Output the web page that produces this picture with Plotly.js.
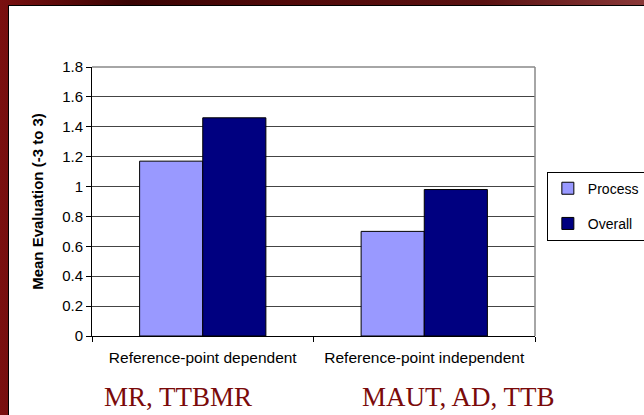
<!DOCTYPE html>
<html>
<head>
<meta charset="utf-8">
<script src="https://cdn.plot.ly/plotly-3.0.1.min.js"></script>
<style>
html,body{margin:0;padding:0;width:644px;height:415px;overflow:hidden;
background:linear-gradient(to right,#7a1010 0%,#3a0404 20%,#520a0a 45%,#5a1212 75%,#8a3838 100%);}
#frame{position:absolute;left:8px;top:5px;width:636px;height:410px;background:#fff;border-left:1px solid #000;border-top:1px solid #000;}
#chart{position:absolute;left:0;top:0;width:635px;height:409px;}
</style>
</head>
<body>
<div id="frame"><div id="chart"></div></div>
<script>
const categories = ["Reference-point dependent", "Reference-point independent"];
const processValues = [1.17, 0.70];
const overallValues = [1.46, 0.98];
const yTicks = [0, 0.2, 0.4, 0.6, 0.8, 1, 1.2, 1.4, 1.6, 1.8];
const yTickLabels = ["0", "0.2", "0.4", "0.6", "0.8", "1", "1.2", "1.4", "1.6", "1.8"];
const groupLabels = ["MR, TTBMR", "MAUT, AD, TTB"];

const traces = [
  {type:"bar", name:"Process", x:categories, y:processValues, legendgroup:"a",
   marker:{color:"#9999FF", line:{color:"#000", width:1}}},
  {type:"bar", name:"Overall", x:categories, y:overallValues, legendgroup:"b",
   marker:{color:"#000080", line:{color:"#000", width:1}}}
];

const layout = {
  width:635, height:409,
  margin:{l:83, r:109, t:61, b:79, autoexpand:false},
  paper_bgcolor:"rgba(0,0,0,0)", plot_bgcolor:"#fff",
  font:{family:"Liberation Sans, Arial, sans-serif", size:12, color:"#000"},
  barmode:"group", bargap:0.43, bargroupgap:0,
  showlegend:true,
  legend:{xref:"container", yref:"container", x:0.847, y:0.595, xanchor:"left", yanchor:"top",
          bordercolor:"#000", borderwidth:1, tracegroupgap:14, traceorder:"grouped", font:{size:14},
          entrywidth:120},
  xaxis:{type:"category", showline:true, linecolor:"#000", linewidth:1,
         ticks:"outside", tickson:"boundaries", ticklen:5, tickcolor:"#000",
         showgrid:false, tickfont:{size:15.5}, ticklabelstandoff:7, fixedrange:true},
  yaxis:{range:[0,1.8], tickvals:yTicks, ticktext:yTickLabels, showline:true, linecolor:"#000", linewidth:1,
         ticks:"outside", ticklen:5, tickcolor:"#000", showgrid:true, gridcolor:"#444", gridwidth:1,
         zeroline:false, tickfont:{size:15},
         title:{text:"<b>Mean Evaluation (-3 to 3)</b>", font:{size:15}, standoff:14}},
  shapes:[
    {type:"line", xref:"paper", yref:"paper", x0:0, x1:1, y0:1, y1:1, line:{color:"#888", width:1.5}},
    {type:"line", xref:"paper", yref:"paper", x0:1, x1:1, y0:0, y1:1, line:{color:"#888", width:1.5}}
  ],
  annotations:[
    {text:groupLabels[0], xref:"paper", yref:"paper", x:0.194, y:-0.227, xanchor:"center", yanchor:"middle", showarrow:false,
     font:{family:"Liberation Serif, Times New Roman, serif", size:27, color:"#7a0a0a"}},
    {text:groupLabels[1], xref:"paper", yref:"paper", x:0.828, y:-0.227, xanchor:"center", yanchor:"middle", showarrow:false,
     font:{family:"Liberation Serif, Times New Roman, serif", size:27, color:"#7a0a0a"}}
  ]
};

Plotly.newPlot("chart", traces, layout, {displayModeBar:false, staticPlot:true});
</script>
</body>
</html>
